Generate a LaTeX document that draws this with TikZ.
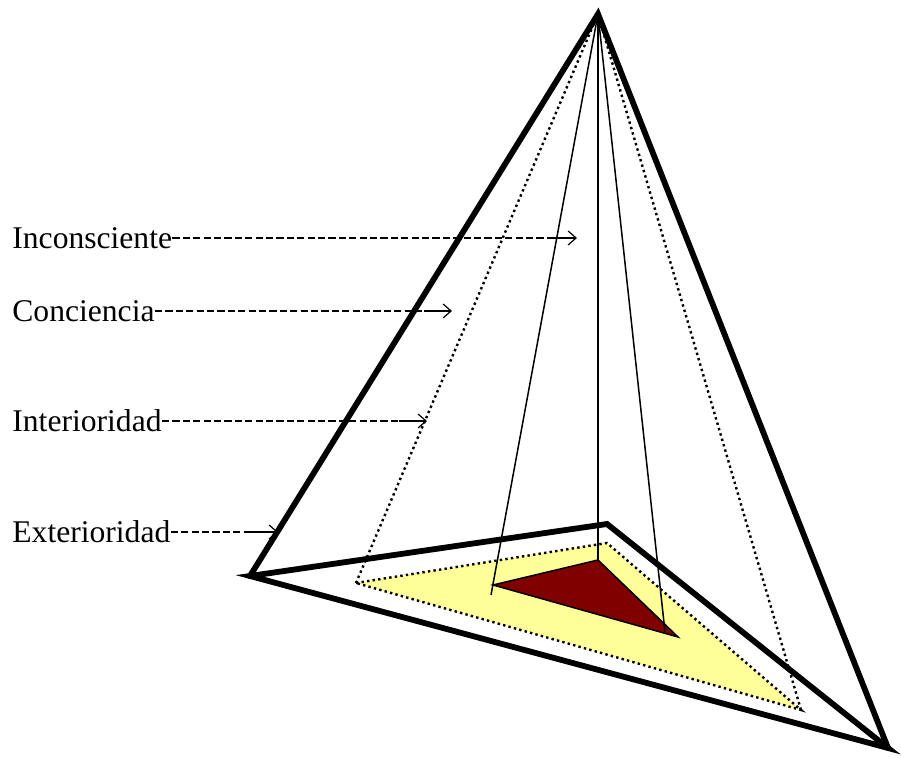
\documentclass[tikz,border=0pt]{standalone}
\usepackage{fontspec}
\setmainfont{Liberation Serif}
\usetikzlibrary{arrows.meta}

\definecolor{paleyellow}{RGB}{255,255,153}
\definecolor{coredark}{RGB}{128,0,0}

\begin{document}
\begin{tikzpicture}[
    x=0.5pt, y=-0.5pt,
    outline/.style={line width=2.9pt, line join=miter, line cap=round},
    hidden/.style={line width=1.2pt, dash pattern=on 1.2pt off 1.6pt},
    ridge/.style={line width=0.75pt},
    levellabel/.style={anchor=west, inner sep=0pt, font=\fontsize{15.8}{18}\selectfont},
    leader/.style={line width=0.6pt, dash pattern=on 3.6pt off 1.6pt},
    pointer/.style={line width=0.6pt, -{Straight Barb[length=4pt,width=7pt]}}
]
    \useasboundingbox (0,0) rectangle (901,758);

    % corners of the pyramid
    \coordinate (apex) at (598,14);
    \coordinate (outer-l) at (250,576);
    \coordinate (outer-b) at (607,524);
    \coordinate (outer-r) at (888,748);
    \coordinate (inner-l) at (356,583);
    \coordinate (inner-b) at (607,543);
    \coordinate (inner-r) at (801,710);
    \coordinate (core-l) at (493,585);
    \coordinate (core-b) at (598,560);
    \coordinate (core-r) at (678,637);
    \coordinate (ridge-l) at (491,595);
    \coordinate (ridge-r) at (665,632);

    % bases
    \fill[paleyellow] (inner-l) -- (inner-b) -- (inner-r) -- cycle;
    \draw[hidden] (inner-l) -- (inner-b) -- (inner-r) -- cycle;
    \draw[ridge, fill=coredark] (core-l) -- (core-b) -- (core-r) -- cycle;

    % edges
    \draw[hidden] (apex) -- (inner-l);
    \draw[hidden] (apex) -- (inner-r);
    \draw[ridge] (apex) -- (ridge-l);
    \draw[ridge] (apex) -- (core-b);
    \draw[ridge] (apex) -- (ridge-r);
    \draw[outline] (outer-l) -- (outer-b) -- (outer-r) -- cycle;
    \draw[outline] (outer-l) -- (apex) -- (outer-r);

    % labels
    \node[levellabel] (inc) at (12,238) {Inconsciente};
    \node[levellabel] (con) at (12,311) {Conciencia};
    \node[levellabel] (int) at (12,421) {Interioridad};
    \node[levellabel] (ext) at (12,532) {Exterioridad};
    \coordinate (inc-tip) at (577,238);
    \coordinate (con-tip) at (452,311);
    \coordinate (int-tip) at (427,421);
    \coordinate (ext-tip) at (278,532);

    \foreach \lv in {inc, con, int, ext} {
        \draw[leader] (\lv.east) -- ([xshift=-14pt]\lv-tip);
        \draw[pointer] ([xshift=-14pt]\lv-tip) -- (\lv-tip);
    }
\end{tikzpicture}
\end{document}
